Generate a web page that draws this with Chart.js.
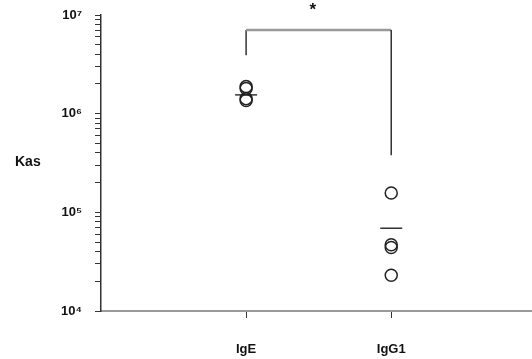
<!DOCTYPE html>
<html>
<head>
<meta charset="utf-8">
<script src="https://cdn.jsdelivr.net/npm/chart.js@4"></script>
<style>
html, body { margin: 0; padding: 0; background: #fff; }
</style>
</head>
<body>
<canvas id="myChart" width="532" height="359"></canvas>
<script>
const categories = ['IgE', 'IgG1'];
const igeValues = [1.88e6, 1.80e6, 1.42e6, 1.36e6];
const igg1Values = [1.57e5, 4.7e4, 4.4e4, 2.3e4];
const meanValues = [1.55e6, 6.9e4];
const bracketX = [1, 1, 2, 2];
const bracketY = [3.9e6, 7.05e6, 7.05e6, 3.8e5];
const decades = [1e4, 1e5, 1e6, 1e7];
const yTickLabels = ['10⁴', '10⁵', '10⁶', '10⁷'];

const FONT = '"Liberation Sans", Arial, sans-serif';
const toPoints = (vals, i) => vals.map(v => ({ x: i + 1, y: v }));

const annotations = {
    id: 'annotations',
    afterDraw(chart) {
        const { ctx, chartArea, scales: { x, y } } = chart;
        ctx.save();
        ctx.fillStyle = '#111';
        ctx.font = 'bold 14px ' + FONT;
        ctx.textAlign = 'left';
        ctx.textBaseline = 'middle';
        ctx.fillText('Kas', 15, chartArea.top + 147);
        // significance star above the bracket
        ctx.textAlign = 'center';
        ctx.font = 'bold 17px ' + FONT;
        ctx.fillText('*', x.getPixelForValue(1.46), y.getPixelForValue(bracketY[1]) - 20);
        ctx.restore();
    }
};

const ctx = document.getElementById('myChart').getContext('2d');
const myChart = new Chart(ctx, {
    type: 'scatter',
    data: {
        datasets: [
            {
                data: [...toPoints(igeValues, 0), ...toPoints(igg1Values, 1)],
                pointStyle: 'circle',
                pointRadius: 6,
                borderColor: '#222',
                borderWidth: 1.5,
                backgroundColor: 'rgba(0,0,0,0)'
            },
            {
                data: meanValues.map((v, i) => ({ x: i + 1, y: v })),
                pointStyle: 'line',
                pointRadius: 11,
                borderColor: '#333',
                borderWidth: 1.5
            },
            {
                type: 'line',
                data: bracketX.map((v, i) => ({ x: v, y: bracketY[i] })),
                pointRadius: 0,
                borderColor: '#333',
                borderWidth: 1.5,
                fill: false,
                segment: {
                    borderColor: c => c.p0DataIndex === 1 ? '#999' : '#333',
                    borderWidth: c => c.p0DataIndex === 1 ? 2.5 : 1.5
                }
            }
        ]
    },
    options: {
        responsive: false,
        animation: false,
        devicePixelRatio: 1,
        layout: { autoPadding: false, padding: { top: 15, right: 0, bottom: 0, left: 0 } },
        scales: {
            x: {
                type: 'linear',
                min: 0,
                max: 2.97,
                afterBuildTicks: s => { s.ticks = categories.map((c, i) => ({ value: i + 1 })); },
                afterFit: s => { s.height = 48; },
                ticks: {
                    callback: v => categories[v - 1],
                    padding: 24,
                    color: '#111',
                    font: { family: FONT, size: 13, weight: 'bold' }
                },
                grid: { drawOnChartArea: false, tickLength: 7, color: '#333' },
                border: { color: '#999', width: 2 }
            },
            y: {
                type: 'logarithmic',
                min: 1e4,
                max: 1e7,
                afterBuildTicks: s => {
                    const t = [];
                    decades.forEach((d, i) => {
                        if (i < decades.length - 1) {
                            for (let k = 1; k < 10; k++) t.push({ value: d * k });
                        } else {
                            t.push({ value: d });
                        }
                    });
                    s.ticks = t;
                },
                afterFit: s => {
                    s.width = 101;
                    s.paddingTop = 0;
                    s.paddingBottom = 0;
                },
                ticks: {
                    autoSkip: false,
                    callback: v => {
                        const i = decades.indexOf(v);
                        return i >= 0 ? yTickLabels[i] : '';
                    },
                    padding: 13,
                    color: '#111',
                    font: { family: FONT, size: 13, weight: 'bold' }
                },
                grid: { drawOnChartArea: false, tickLength: 6, color: '#333' },
                border: { color: '#333', width: 1.5 }
            }
        },
        plugins: {
            legend: { display: false },
            tooltip: { enabled: false }
        }
    },
    plugins: [annotations]
});
</script>
</body>
</html>
